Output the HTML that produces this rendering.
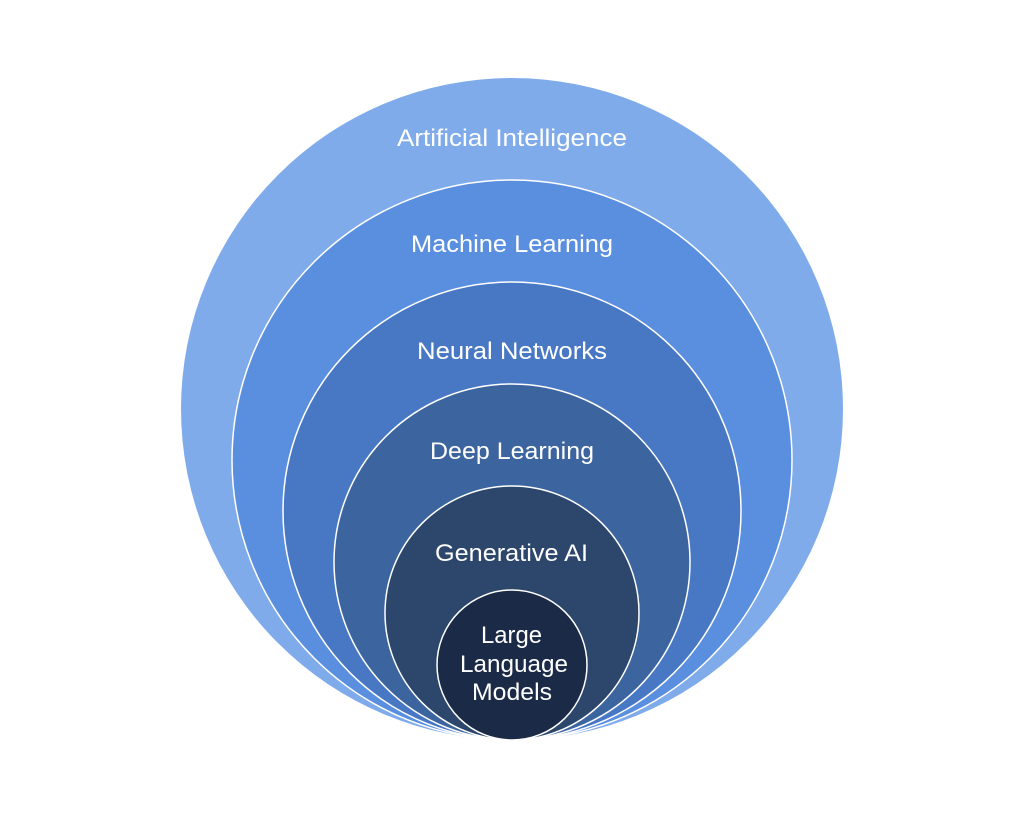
<!DOCTYPE html>
<html>
<head>
<meta charset="utf-8">
<style>
  html, body { margin: 0; padding: 0; background: #ffffff; }
  body { width: 1024px; height: 820px; overflow: hidden; }
  svg { display: block; }
  text { font-family: "Liberation Sans", "DejaVu Sans", sans-serif; fill: #ffffff; font-size: 24px; }
</style>
</head>
<body>
<svg width="1024" height="820" viewBox="0 0 1024 820" xmlns="http://www.w3.org/2000/svg">
  <rect width="1024" height="820" fill="#ffffff"/>
  <circle cx="512" cy="409" r="331" fill="#7fabeb"/>
  <circle cx="512" cy="460" r="280" fill="#5a8fdf" stroke="#ffffff" stroke-width="1.5"/>
  <circle cx="512" cy="511" r="229" fill="#4878c4" stroke="#ffffff" stroke-width="1.5"/>
  <circle cx="512" cy="562" r="178" fill="#3c649f" stroke="#ffffff" stroke-width="1.5"/>
  <circle cx="512" cy="613" r="127" fill="#2c466c" stroke="#ffffff" stroke-width="1.5"/>
  <circle cx="512" cy="665" r="75" fill="#1b2a47" stroke="#ffffff" stroke-width="1.5"/>

  <text x="397" y="146" textLength="230" lengthAdjust="spacingAndGlyphs">Artificial Intelligence</text>
  <text x="411" y="252" textLength="202" lengthAdjust="spacingAndGlyphs">Machine Learning</text>
  <text x="417" y="359" textLength="190" lengthAdjust="spacingAndGlyphs">Neural Networks</text>
  <text x="430" y="459" textLength="164" lengthAdjust="spacingAndGlyphs">Deep Learning</text>
  <text x="435" y="561" textLength="153" lengthAdjust="spacingAndGlyphs">Generative AI</text>
  <text x="481" y="643" textLength="61" lengthAdjust="spacingAndGlyphs">Large</text>
  <text x="460" y="672" textLength="108" lengthAdjust="spacingAndGlyphs">Language</text>
  <text x="472" y="700" textLength="80" lengthAdjust="spacingAndGlyphs">Models</text>
</svg>
</body>
</html>
